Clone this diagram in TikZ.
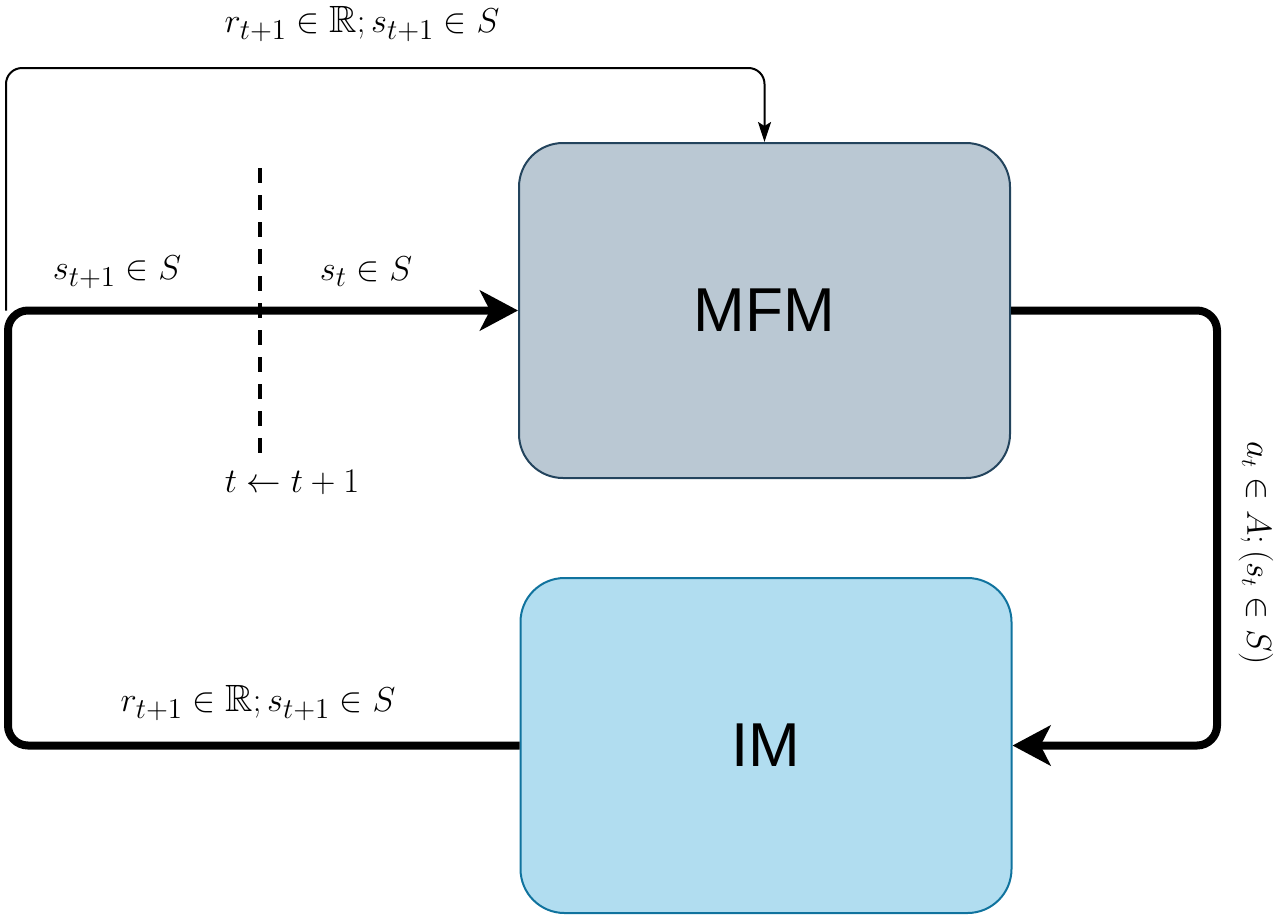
\documentclass[tikz,border=0pt]{standalone}
\usepackage{amsmath,amssymb}
\usepackage{fontspec}
\newfontfamily\boxfont{Liberation Sans}
\usetikzlibrary{arrows.meta,calc}
\definecolor{mfmfill}{HTML}{BAC8D3}
\definecolor{mfmdraw}{HTML}{23445D}
\definecolor{imfill}{HTML}{B1DDF0}
\definecolor{imdraw}{HTML}{10739E}
\tikzset{
  module/.style={rounded corners=22pt, line width=1pt, minimum width=245.5pt, minimum height=167.5pt, inner sep=0pt, font=\boxfont\fontsize{31}{37}\selectfont},
  mainflow/.style={line width=4pt, rounded corners=10pt, -{Stealth[length=19pt,width=20pt,inset=5pt]}},
  sideflow/.style={line width=1pt, rounded corners=8pt, -{Stealth[length=10pt,width=6.5pt,inset=2pt]}},
  lbl/.style={inner sep=0pt, font=\fontsize{19}{23}\selectfont},
}

\begin{document}
\begin{tikzpicture}[x=0.5pt,y=-0.5pt]
  \useasboundingbox (0,0) rectangle (1278,916);
  % modules
  \node[module, fill=mfmfill, draw=mfmdraw] (mfm) at (764.5,310.5) {MFM};
  \node[module, fill=imfill, draw=imdraw] (im) at (766,745.5) {IM};
  % loop corners
  \coordinate (lloop) at (8,0);
  \coordinate (rloop) at (1217,0);
  \coordinate (ttop) at (6,68);
  % main loop
  \draw[mainflow] (mfm.east) -- (mfm.east -| rloop) |- (im.east);
  \draw[mainflow] (im.west) -- (im.west -| lloop) |- (mfm.west);
  % reward feedback
  \draw[sideflow] (mfm.west -| ttop) -- (ttop) -| (mfm.north);
  % time step
  \coordinate (dtop) at (260,168);
  \coordinate (dbot) at (260,455);
  \draw[line width=2pt, dash pattern=on 7.5pt off 6pt] (dtop) -- (dbot);
  % labels
  \node[lbl] (toplbl) at (362,24) {$r_{t+1} \in \mathbb{R}; s_{t+1} \in S$};
  \node[lbl] (nextlbl) at (117,272) {$s_{t+1} \in S$};
  \node[lbl] (curlbl) at (366,272) {$s_t \in S$};
  \node[lbl] (steplbl) at (292,482) {$t \leftarrow t+1$};
  \node[lbl] (botlbl) at (258,703) {$r_{t+1} \in \mathbb{R}; s_{t+1} \in S$};
  \node[lbl, rotate=-90, font=\fontsize{16}{20}\selectfont] (actlbl) at (1256,553) {$a_t \in A; (s_t \in S)$};
\end{tikzpicture}
\end{document}
